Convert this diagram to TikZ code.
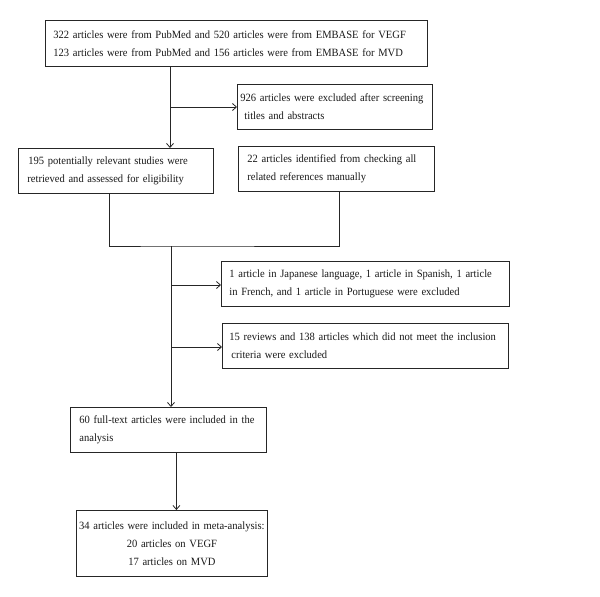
\documentclass[tikz,border=0pt]{standalone}
\usepackage{fontspec}
\setmainfont[WordSpace=0.7,FakeStretch=0.95]{Liberation Serif}
\usetikzlibrary{arrows.meta}
\hyphenpenalty=10000
\begin{document}
\begin{tikzpicture}[x=1pt,y=-1pt,>={Straight Barb[length=4pt,width=7pt]},
  box/.style={draw=black!85,line width=0.8pt,anchor=north west,align=left,
    inner ysep=2pt,font=\fontsize{11.1}{18}\selectfont,text=black!90},
  link/.style={draw=black!85,line width=0.8pt}]
  \useasboundingbox[fill=white] (0,0) rectangle (600,597);
  % boxes
  \node[box,inner xsep=8pt,text width=366pt,minimum width=378pt,minimum height=46pt] (src) at (45,20)
    {322 articles were from PubMed and 520 articles were from EMBASE for VEGF\\
     123 articles were from PubMed and 156 articles were from EMBASE for MVD};
  \node[box,inner xsep=3pt,text width=189pt,minimum width=191pt,minimum height=45pt] (excl) at (237,84)
    {926 articles were excluded after screening\\
     \hspace*{4pt}titles and abstracts};
  \node[box,inner xsep=10pt,text width=175pt,minimum width=191pt,minimum height=45pt] (ret) at (18,148)
    {195 potentially relevant studies were\\
     \hspace*{-1pt}retrieved and assessed for eligibility};
  \node[box,inner xsep=9pt,text width=178pt,minimum width=192pt,minimum height=45pt] (man) at (238,146)
    {22 articles identified from checking all\\
     related references manually};
  \node[box,inner xsep=8pt,text width=272pt,minimum width=284pt,minimum height=45pt] (lang) at (221,261)
    {1 article in Japanese language, 1 article in Spanish, 1 article\\
     in French, and 1 article in Portuguese were excluded};
  \node[box,inner xsep=7pt,text width=272pt,minimum width=283pt,minimum height=45pt] (rev) at (222,323)
    {15 reviews and 138 articles which did not meet the inclusion\\
     \hspace*{2pt}criteria were excluded};
  \node[box,inner xsep=9pt,text width=178pt,minimum width=192pt,minimum height=45pt] (full) at (70,407)
    {60 full-text articles were included in the\\
     analysis};
  \node[box,align=center,inner xsep=0pt,text width=191pt,minimum width=191pt,minimum height=66pt] (meta) at (76,510)
    {34 articles were included in meta-analysis:\\
     20 articles on VEGF\\
     17 articles on MVD};
  % junctions
  \coordinate (j1) at (170,107);
  \coordinate (m) at (171,246);
  \coordinate (k1) at (171,285);
  \coordinate (k2) at (171,347);
  % connectors
  \draw[link,->] (src.south -| j1) -- (ret.north -| j1);
  \draw[link,->] (j1) -- (excl.west |- j1);
  \draw[link] ([xshift=-7pt]ret.south) |- (m) -| ([xshift=3pt]man.south);
  \draw[link,->] (m) -- (full.north -| m);
  \draw[link,->] (k1) -- (lang.west |- k1);
  \draw[link,->] (k2) -- (rev.west |- k2);
  \draw[link,->] ([xshift=8pt]full.south) -- ([xshift=8pt]full.south |- meta.north);
\end{tikzpicture}
\end{document}
